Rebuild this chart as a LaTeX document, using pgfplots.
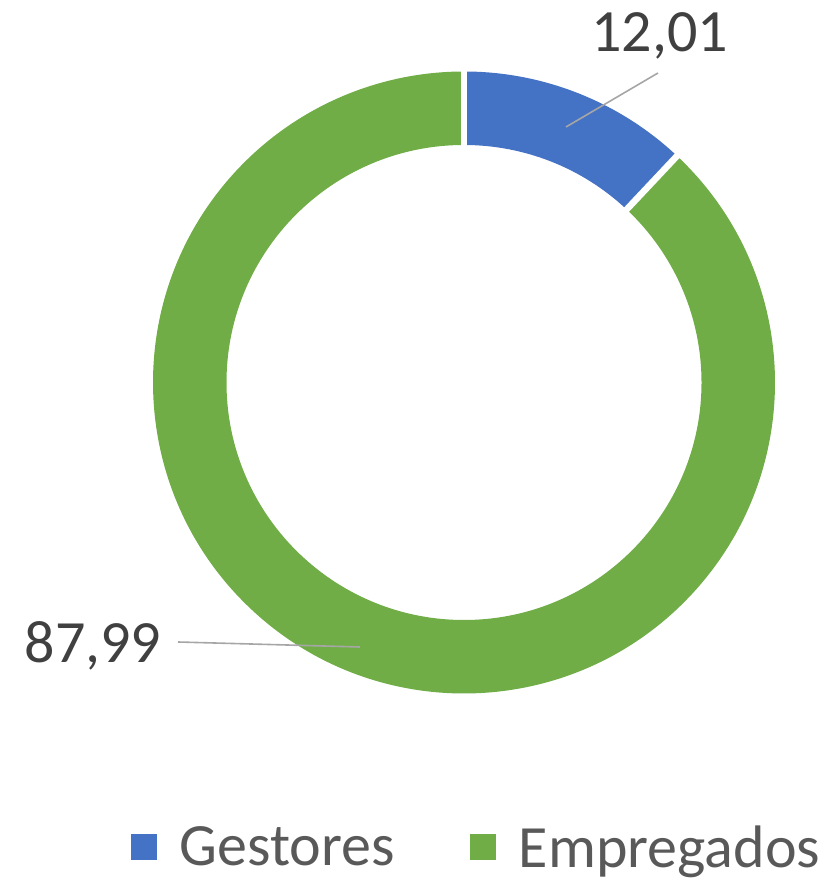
\documentclass[border=0pt]{standalone}
\usepackage{pgfplots}
\pgfplotsset{compat=1.18}
\usepackage{pgfplotstable}
\usepackage{fontspec}
\setmainfont{Carlito}
\definecolor{cGest}{HTML}{4472C4}
\definecolor{cEmp}{HTML}{70AD47}
\definecolor{cLab}{HTML}{404040}
\definecolor{cLeg}{HTML}{595959}
\definecolor{cLead}{HTML}{A6A6A6}
\pgfplotstableread{
label value
Gestores 12.01
Empregados 87.99
}\datatable
\begin{document}
\begin{tikzpicture}
\pgfplotstablegetelem{0}{value}\of\datatable \let\vA\pgfplotsretval
\pgfplotstablegetelem{1}{value}\of\datatable \let\vB\pgfplotsretval
\pgfmathsetmacro\tot{\vA+\vB}
\pgfmathsetmacro\aA{90}
\pgfmathsetmacro\aB{90-360*\vA/\tot}
\pgfmathsetmacro\aC{90-360}
\def\cx{464}\def\cy{500.5}
\def\Ro{311pt}\def\Ri{237.5pt}
\begin{axis}[
  scale only axis, width=834pt, height=883pt,
  xmin=0, xmax=834, ymin=0, ymax=883,
  hide axis, clip=false,
  legend columns=-1,
  legend image code/.code={\path[fill, draw=none] (0pt,-13pt) rectangle (26pt,13pt);},
  legend style={at={(axis cs:476.5,36)}, anchor=center, draw=none, fill=none,
    font=\fontsize{60}{70}\selectfont, text=cLeg, inner sep=0pt,
    /tikz/every odd column/.append style={column sep=21pt},
    /tikz/every even column/.append style={column sep=73pt}},
]
\path (axis cs:0,0) rectangle (axis cs:834,883);
% sectors
\fill[cGest] (axis cs:\cx,\cy) ++(\aA:\Ro) arc[start angle=\aA, end angle=\aB, radius=\Ro]
  -- ([shift={(\aB:\Ri)}]axis cs:\cx,\cy) arc[start angle=\aB, end angle=\aA, radius=\Ri] -- cycle;
\fill[cEmp] (axis cs:\cx,\cy) ++(\aB:\Ro) arc[start angle=\aB, end angle=\aC, radius=\Ro]
  -- ([shift={(\aC:\Ri)}]axis cs:\cx,\cy) arc[start angle=\aC, end angle=\aB, radius=\Ri] -- cycle;
% separators
\draw[white, line width=6.5pt] ([shift={(\aA:230pt)}]axis cs:\cx,\cy) -- ([shift={(\aA:318pt)}]axis cs:\cx,\cy);
\draw[white, line width=6.5pt] ([shift={(\aB:230pt)}]axis cs:\cx,\cy) -- ([shift={(\aB:318pt)}]axis cs:\cx,\cy);
% leader lines
\draw[cLead, line width=1.6pt] (axis cs:658,810) -- (axis cs:566,756);
\draw[cLead, line width=1.6pt] (axis cs:178,241) -- (axis cs:360,236);
% labels
\node[anchor=base, text=cLab, font=\fontsize{60}{70}\selectfont, inner sep=0pt]
  at (axis cs:659.5,831) {\pgfmathprintnumber[assume math mode=true, use comma, fixed, fixed zerofill, precision=2]{\vA}};
\node[anchor=base, text=cLab, font=\fontsize{60}{70}\selectfont, inner sep=0pt]
  at (axis cs:93,220) {\pgfmathprintnumber[assume math mode=true, use comma, fixed, fixed zerofill, precision=2]{\vB}};
% legend
\addlegendimage{fill=cGest, draw=none}
\addlegendentry{Gestores}
\addlegendimage{fill=cEmp, draw=none}
\addlegendentry{Empregados}
\end{axis}
\end{tikzpicture}
\end{document}
